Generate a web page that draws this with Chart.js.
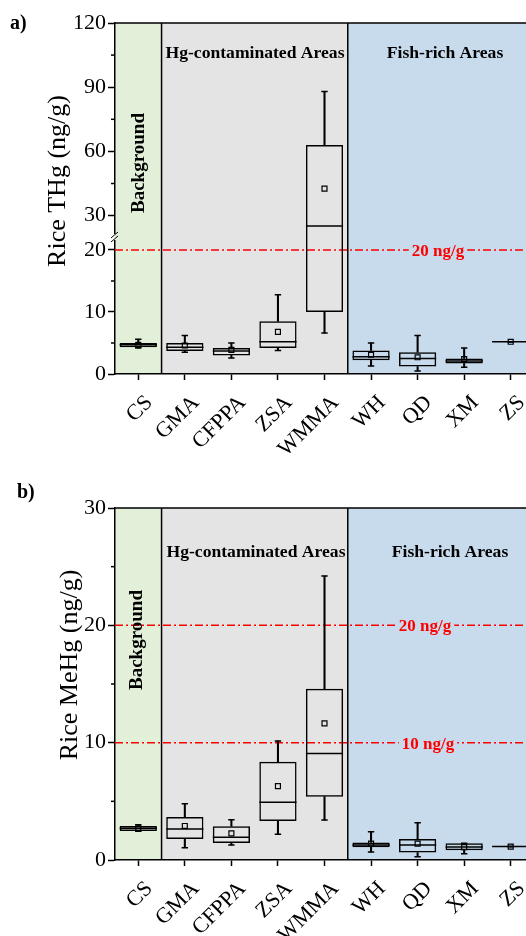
<!DOCTYPE html>
<html>
<head>
<meta charset="utf-8">
<script src="https://cdn.jsdelivr.net/npm/chart.js@4.4.1/dist/chart.umd.min.js"></script>
<style>
html,body{margin:0;padding:0;background:#fff;overflow:hidden;}
#wrap{width:526px;height:936px;overflow:hidden;}
canvas{display:block;}
</style>
</head>
<body>
<div id="wrap">
<canvas id="chartA" width="534" height="468"></canvas>
<canvas id="chartB" width="534" height="468"></canvas>
</div>
<script>
const sites = ["CS","GMA","CFPPA","ZSA","WMMA","WH","QD","XM","ZS"];

// a) rice THg (ng/g): whisker ends, quartiles, median, mean
const thgLow  = [4.2, 3.5, 2.6, 3.8, 6.6, 1.3, 0.5, 1.1, 5.2];
const thgQ1   = [4.3, 3.7, 3.0, 4.2, 10.0, 2.2, 1.2, 1.7, 5.17];
const thgMed  = [4.7, 4.3, 3.7, 5.2, 25.2, 2.8, 2.5, 2.1, 5.2];
const thgQ3   = [5.0, 5.0, 4.2, 8.5, 63.0, 3.8, 3.5, 2.5, 5.23];
const thgHigh = [5.6, 6.2, 5.0, 12.8, 88.0, 5.0, 6.2, 4.2, 5.2];
const thgMean = [4.7, 4.6, 3.9, 6.8, 42.6, 3.1, 2.7, 2.4, 5.2];
const thgTicks = [0, 10, 20, 30, 60, 90, 120];
const thgMinor = [5, 15, 45, 75, 105];

// b) rice MeHg (ng/g)
const mehgLow  = [2.45, 1.05, 1.28, 2.2, 3.4, 0.68, 0.28, 0.54, 1.14];
const mehgQ1   = [2.47, 1.79, 1.45, 3.32, 5.4, 1.08, 0.63, 0.83, 1.11];
const mehgMed  = [2.7, 2.64, 1.93, 4.92, 9.07, 1.28, 1.28, 1.1, 1.14];
const mehgQ3   = [2.9, 3.67, 2.87, 8.38, 14.6, 1.5, 1.79, 1.42, 1.17];
const mehgHigh = [3.0, 4.8, 3.44, 10.14, 24.2, 2.4, 3.18, 1.42, 1.14];
const mehgMean = [2.7, 2.9, 2.27, 6.3, 11.65, 1.39, 1.39, 1.1, 1.14];
const mehgTicks = [0, 10, 20, 30];
const mehgMinor = [5, 15, 25];

const areaNames = ["Background", "Hg-contaminated Areas", "Fish-rich Areas"];
const areaSpans = [[0, 0], [1, 4], [5, 8]];
const areaColors = ["#e2efd9", "#e4e4e4", "#c7dbec"];

const SERIF = "'Liberation Serif','Times New Roman',serif";

// linear scale with a break: 0..at uses lowFrac of the height, at..max starts at upFrac
class BrokenScale extends Chart.LinearScale {
  getPixelForValue(v){
    const b = this.options.brk, h = this.bottom - this.top;
    const f = v <= b.at ? (v - this.min) / (b.at - this.min) * b.lowFrac
                        : b.upFrac + (v - b.at) / (this.max - b.at) * (1 - b.upFrac);
    return this.bottom - f * h;
  }
}
BrokenScale.id = "broken";
BrokenScale.defaults = Chart.LinearScale.defaults;
Chart.register(BrokenScale);

function boxDatasets(lo, q1, med, q3, hi, mean){
  const pts = {type:"line", showLine:false, borderColor:"#000", pointBorderColor:"#000", pointBackgroundColor:"rgba(0,0,0,0)"};
  const whisker = {type:"bar", grouped:false, barThickness:1.4, backgroundColor:"#000", borderWidth:0};
  return [
    {...pts, data:mean, pointStyle:"rect", pointRadius:3.5, pointBorderWidth:1.2},
    {...pts, data:med, pointStyle:"line", pointRadius:18.6, pointBorderWidth:1.5},
    {...pts, data:lo, pointStyle:"line", pointRadius:3.2, pointBorderWidth:1.5},
    {...pts, data:hi, pointStyle:"line", pointRadius:3.2, pointBorderWidth:1.5},
    {type:"bar", grouped:false, data:q1.map((v,i)=>[v, q3[i]]), backgroundColor:"rgba(0,0,0,0)",
      borderColor:"#000", borderWidth:1.5, borderSkipped:false, barPercentage:0.8, categoryPercentage:1},
    {...whisker, data:lo.map((v,i)=>[v, q1[i]])},
    {...whisker, data:q3.map((v,i)=>[v, hi[i]])}
  ];
}

const decoPlugin = {
  id:"deco",
  beforeDraw(chart){
    const {ctx, chartArea:a, scales:{x}} = chart;
    const step = x.getPixelForValue(1) - x.getPixelForValue(0);
    areaSpans.forEach((s,i)=>{
      const l = Math.max(a.left, x.getPixelForValue(s[0]) - step/2);
      const r = Math.min(a.right, x.getPixelForValue(s[1]) + step/2);
      ctx.fillStyle = areaColors[i];
      ctx.fillRect(l, a.top, r - l, a.bottom - a.top);
    });
  },
  beforeDatasetsDraw(chart, args, o){
    const {ctx, chartArea:a, scales:{x, y}} = chart;
    const step = x.getPixelForValue(1) - x.getPixelForValue(0);
    ctx.save();
    ctx.strokeStyle = "#000";
    ctx.lineWidth = 1.5;
    ctx.beginPath();
    ctx.moveTo(a.left, a.top); ctx.lineTo(a.right, a.top);
    for (let i = 1; i < areaSpans.length; i++){
      const px = x.getPixelForValue(areaSpans[i][0]) - step/2;
      ctx.moveTo(px, a.top); ctx.lineTo(px, a.bottom);
    }
    ctx.stroke();

    // reference levels
    ctx.font = "bold 17px " + SERIF;
    ctx.textAlign = "center";
    ctx.textBaseline = "alphabetic";
    o.refs.forEach(r=>{
      const py = y.getPixelForValue(r.v);
      ctx.strokeStyle = "#ff0000";
      ctx.setLineDash([8, 3, 2, 3]);
      ctx.beginPath(); ctx.moveTo(a.left, py); ctx.lineTo(a.right, py); ctx.stroke();
      ctx.setLineDash([]);
      const w = ctx.measureText(r.text).width;
      ctx.fillStyle = areaColors[2];
      ctx.fillRect(r.x - w/2 - 3, py - 3, w + 6, 6);
      ctx.fillStyle = "#ff0000";
      ctx.fillText(r.text, r.x, py + 6);
    });

    // area names
    ctx.fillStyle = "#000";
    o.names.forEach((n,i)=>{
      ctx.save();
      ctx.translate(n.x, n.y);
      if (i === 0){
        ctx.rotate(-Math.PI/2);
        ctx.font = "bold 19px " + SERIF;
      } else {
        ctx.font = "bold 17.6px " + SERIF;
      }
      ctx.fillText(areaNames[i], 0, 0);
      ctx.restore();
    });
    ctx.restore();
  },
  afterDraw(chart, args, o){
    const {ctx, chartArea:a, scales:{y}} = chart;
    ctx.save();
    ctx.strokeStyle = "#000";
    ctx.lineWidth = 1.5;
    o.minor.forEach(v=>{
      const p = y.getPixelForValue(v);
      ctx.beginPath(); ctx.moveTo(a.left - 4, p); ctx.lineTo(a.left, p); ctx.stroke();
    });

    if (o.brk){
      const gy = y.bottom - (y.bottom - y.top) * y.options.brk.upFrac;
      ctx.fillStyle = areaColors[0];
      ctx.fillRect(a.left, gy - 3, 1.5, 6);
      ctx.clearRect(a.left - 1.5, gy - 3, 1.5, 6);
      ctx.lineWidth = 1;
      [-2, 2].forEach(d=>{
        ctx.beginPath(); ctx.moveTo(a.left - 4, gy + d + 3); ctx.lineTo(a.left + 3, gy + d - 3); ctx.stroke();
      });
    }

    ctx.fillStyle = "#000";
    ctx.textAlign = "center";
    ctx.textBaseline = "alphabetic";
    ctx.translate(o.titleX, o.titleY);
    ctx.rotate(-Math.PI/2);
    ctx.font = "26px " + SERIF;
    ctx.fillText(o.title, 0, 0);
    ctx.restore();

    ctx.save();
    ctx.font = "bold 20px " + SERIF;
    ctx.fillStyle = "#000";
    ctx.textAlign = "left";
    ctx.fillText(o.letter, o.letterX, o.letterY);
    ctx.restore();
  }
};

function makeChart(id, datasets, yScale, deco, padTop, xHeight){
  return new Chart(document.getElementById(id), {
    type:"bar",
    data:{labels:sites, datasets},
    options:{
      responsive:false,
      animation:false,
      events:[],
      layout:{autoPadding:false, padding:{top:padTop, left:0, right:0, bottom:0}},
      plugins:{legend:{display:false}, tooltip:{enabled:false}, deco},
      scales:{
        x:{
          type:"category", offset:true,
          grid:{display:true, offset:false, drawOnChartArea:false, tickLength:6, tickWidth:1.5, tickColor:"#000"},
          border:{display:true, color:"#000", width:1.5},
          ticks:{color:"#000", font:{family:SERIF, size:22}, minRotation:45, maxRotation:45, autoSkip:false, padding:10, labelOffset:11},
          afterFit:s=>{ s.height = xHeight; s.paddingLeft = 0; s.paddingRight = 0; }
        },
        y:{
          ...yScale,
          position:"left",
          grid:{display:true, drawOnChartArea:false, tickLength:7, tickWidth:1.5, tickColor:"#000"},
          border:{display:true, color:"#000", width:1.5},
          ticks:{color:"#000", font:{family:SERIF, size:22}, padding:2},
          afterFit:s=>{ s.width = 115; }
        }
      }
    },
    plugins:[decoPlugin]
  });
}

makeChart("chartA",
  boxDatasets(thgLow, thgQ1, thgMed, thgQ3, thgHigh, thgMean),
  {type:"broken", min:0, max:120, brk:{at:20, lowFrac:0.3533, upFrac:0.3903},
   afterBuildTicks:s=>{ s.ticks = thgTicks.map(v=>({value:v})); }},
  {title:"Rice THg (ng/g)", titleX:65, titleY:181, letter:"a)", letterX:10, letterY:29, minor:thgMinor, brk:true,
   refs:[{v:20, text:"20 ng/g", x:438}],
   names:[{x:144, y:163}, {x:255, y:58}, {x:445, y:58}]},
  23, 94);

makeChart("chartB",
  boxDatasets(mehgLow, mehgQ1, mehgMed, mehgQ3, mehgHigh, mehgMean),
  {type:"linear", min:0, max:30,
   afterBuildTicks:s=>{ s.ticks = mehgTicks.map(v=>({value:v})); }},
  {title:"Rice MeHg (ng/g)", titleX:77, titleY:197, letter:"b)", letterX:17, letterY:30, minor:mehgMinor, brk:false,
   refs:[{v:20, text:"20 ng/g", x:425}, {v:10, text:"10 ng/g", x:428}],
   names:[{x:142, y:172}, {x:256, y:88.5}, {x:450, y:88.5}]},
  40, 76);
</script>
</body>
</html>
